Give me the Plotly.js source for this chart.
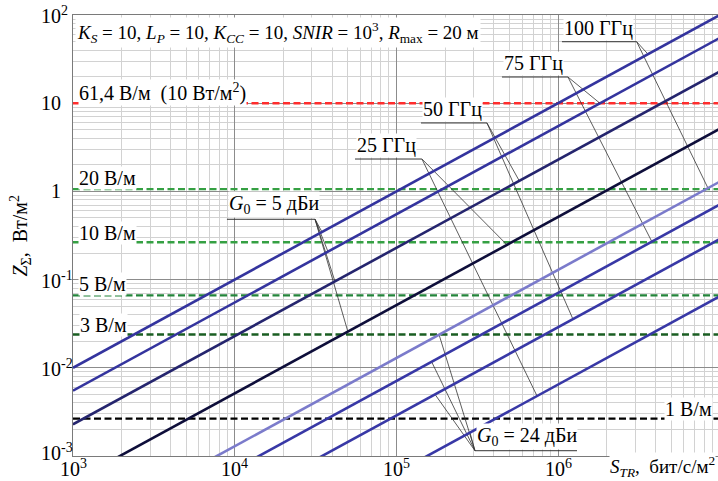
<!DOCTYPE html>
<html><head><meta charset="utf-8">
<script src="https://cdn.plot.ly/plotly-3.0.1.min.js"></script>
<style>body{margin:0;background:#fff}#c{width:718px;height:481px}</style></head>
<body><div id="c"></div>
<script>
// ---- data ----
const S_ends = [1e3, 1e7];
const seriesNames = ['100 ГГц, 5 дБи','75 ГГц, 5 дБи','50 ГГц, 5 дБи','25 ГГц, 5 дБи','100 ГГц, 24 дБи','75 ГГц, 24 дБи','50 ГГц, 24 дБи','25 ГГц, 24 дБи'];
const seriesZStart = [0.01, 0.0055, 0.00229, 0.000513, 0.000129, 0.0000708, 0.0000288, 0.00000646];
const seriesZEnd   = [100, 55, 22.9, 5.13, 1.29, 0.708, 0.288, 0.0646];
const fieldLabels = ['61,4 В/м  (10 Вт/м<sup>2</sup>)','20 В/м','10 В/м','5 В/м','3 В/м','1 В/м'];
const fieldZ = [10, 1.06, 0.265, 0.0663, 0.0239, 0.00265];
const xTickVals = [1e3,1e4,1e5,1e6];
const xTickText = ['10<sup>3</sup>','10<sup>4</sup>','10<sup>5</sup>','10<sup>6</sup>'];
const yTickVals = [1e-3,1e-2,1e-1,1,10,100];
const yTickText = ['10<sup>-3</sup>','10<sup>-2</sup>','10<sup>-1</sup>','1','10','10<sup>2</sup>'];
const groupLabels = ['100 ГГц','75 ГГц','50 ГГц','25 ГГц','<i>G</i><sub>0</sub> = 5 дБи','<i>G</i><sub>0</sub> = 24 дБи'];
const paramText = '<i>K</i><sub><i>S</i></sub> = 10, <i>L</i><sub><i>P</i></sub> = 10, <i>K</i><sub><i>CC</i></sub> = 10, <i>SNIR</i> = 10<sup>3</sup>, <i>R</i><sub>max</sub> = 20 м';

// ---- styles / positions ----
const seriesColors = ['#34349e','#34349e','#25256e','#0e0e3a','#7b7bcb','#3838a6','#3838a6','#3838a6'];
const fieldColors = ['#ff2d2d','#35a043','#35a043','#23843a','#1a5e22','#000000'];
const fieldLabelPos = [[3.031,1.127,'left'],[3.031,0.149,'left'],[3.031,-0.468,'left'],[3.031,-1.053,'left'],[3.037,-1.515,'left'],[6.958,-2.471,'right']];
const groupUnderline = [[6.024,6.486,1.697],[5.653,6.061,1.297],[5.152,5.560,0.776],[4.744,5.158,0.367],[3.952,4.497,-0.316],[5.486,6.117,-2.940]];
const groupLeaderFrom = [1,1,1,1,1,0];
const groupTargets = [[[0,6.556],[4,6.927]],[[1,6.259],[5,6.58]],[[2,5.76],[6,6.092]],[[3,5.684],[7,5.87]],
  [[0,4.54],[1,4.577],[2,4.62],[3,4.70]],[[4,5.264],[5,5.218],[6,5.239],[7,5.455]]];
const yTickPx = [40,40,40,50,40,40];
const yTickShift = [4,0,0,0,0,0];

const FONT = 'Liberation Serif, Times New Roman, serif';
const FS = 20;
const traces = [];
fieldZ.forEach((z,i)=>{
  traces.push({x:S_ends, y:[z,z], mode:'lines', hoverinfo:'skip',
    line:{color:fieldColors[i], width:2.4, dash:'7px,3.5px'}});
});
function zOn(k, ls){
  const a=Math.log10(seriesZStart[k]), b=Math.log10(seriesZEnd[k]);
  const l0=Math.log10(S_ends[0]), l1=Math.log10(S_ends[1]);
  return Math.pow(10, a+(ls-l0)*(b-a)/(l1-l0));
}
groupUnderline.forEach((u,g)=>{
  traces.push({x:[Math.pow(10,u[0]),Math.pow(10,u[1])], y:[Math.pow(10,u[2]),Math.pow(10,u[2])],
    mode:'lines', hoverinfo:'skip', line:{color:'#333', width:1}});
  const ox = groupLeaderFrom[g] ? u[1] : u[0];
  groupTargets[g].forEach(t=>{
    traces.push({x:[Math.pow(10,ox), Math.pow(10,t[1])], y:[Math.pow(10,u[2]), zOn(t[0],t[1])],
      mode:'lines', hoverinfo:'skip', line:{color:'#333', width:0.8}});
  });
});
seriesNames.forEach((n,i)=>{
  traces.push({x:S_ends, y:[seriesZStart[i], seriesZEnd[i]], name:n, mode:'lines',
    line:{color:seriesColors[i], width:2.6}});
});

function minorVals(lo, hi){
  const v=[]; for(let e=lo;e<hi;e++) for(let m=2;m<=9;m++) v.push(m*Math.pow(10,e)); return v;
}

const annotations = [];
annotations.push({xref:'x', yref:'y', x:3.012, y:1.807, xanchor:'left', yanchor:'middle', text:paramText,
  showarrow:false, bgcolor:'white', font:{family:FONT, size:19, color:'#000'}});
fieldLabels.forEach((t,i)=>{
  const p=fieldLabelPos[i];
  annotations.push({xref:'x', yref:'y', x:p[0], y:p[1], xanchor:p[2], yanchor:'middle', text:t,
    showarrow:false, bgcolor:'white', borderpad:0, font:{family:FONT, size:FS, color:'#000'}});
});
groupLabels.forEach((t,g)=>{
  const u=groupUnderline[g];
  annotations.push({xref:'x', yref:'y', x:u[0]+0.006, y:u[2], xanchor:'left', yanchor:'bottom', yshift:1, text:t,
    showarrow:false, bgcolor:'white', borderpad:0, font:{family:FONT, size:FS, color:'#000'}});
});
yTickVals.forEach((v,i)=>{
  annotations.push({xref:'paper', yref:'y', x:(yTickPx[i]-73)/645, y:Math.log10(v), xanchor:'left', yanchor:'middle',
    yshift:yTickShift[i], text:yTickText[i], showarrow:false, borderpad:0, font:{family:FONT, size:FS, color:'#000'}});
});
xTickVals.forEach((v,i)=>{
  annotations.push({xref:'x', yref:'paper', x:Math.log10(v), y:(456-481)/441, xanchor:'center', yanchor:'bottom',
    text:xTickText[i], showarrow:false, borderpad:0, font:{family:FONT, size:FS, color:'#000'}});
});
annotations.push({xref:'paper', yref:'paper', x:-0.082, y:0.5, textangle:-90, xanchor:'center', yanchor:'middle',
  text:'<i>Z</i><sub>Σ</sub>,  Вт/м<sup>2</sup>', showarrow:false, font:{family:FONT, size:FS, color:'#000'}});
annotations.push({xref:'paper', yref:'paper', x:0.997, y:(456-481)/441, xanchor:'right', yanchor:'bottom',
  text:'<i>S</i><sub><i>TR</i></sub>,  бит/с/м<sup>2</sup>', showarrow:false, borderpad:0, bgcolor:'white', font:{family:FONT, size:19, color:'#000'}});

const layout = {
  width:718, height:481, margin:{l:73, r:0, t:15, b:25},
  paper_bgcolor:'white', plot_bgcolor:'white', showlegend:false,
  font:{family:FONT, size:FS, color:'#000'},
  xaxis:{type:'log', range:[3, 6.989], tickmode:'array', tickvals:xTickVals, showticklabels:false,
    showgrid:true, gridcolor:'#8c8c8c', gridwidth:1, zeroline:false, ticks:'', automargin:false,
    showline:true, mirror:true, linecolor:'#7a7a7a', linewidth:1,
    minor:{tickmode:'array', tickvals:minorVals(3,7), showgrid:true, gridcolor:'#d2d2d2', gridwidth:1, ticks:''}},
  yaxis:{type:'log', range:[-3, 2], tickmode:'array', tickvals:yTickVals, showticklabels:false,
    showgrid:true, gridcolor:'#8c8c8c', gridwidth:1, zeroline:false, ticks:'', automargin:false,
    showline:true, mirror:true, linecolor:'#7a7a7a', linewidth:1,
    minor:{tickmode:'array', tickvals:minorVals(-3,2), showgrid:true, gridcolor:'#d2d2d2', gridwidth:1, ticks:''}},
  annotations:annotations
};
Plotly.newPlot('c', traces, layout, {displayModeBar:false, staticPlot:true});
</script></body></html>
